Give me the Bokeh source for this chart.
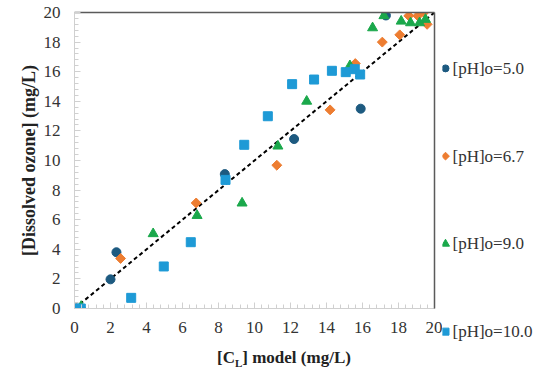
import math
from bokeh.plotting import figure
from bokeh.models import (Range1d, FactorRange, SingleIntervalTicker, FixedTicker, LinearAxis, Div)
from bokeh.layouts import column, row
from bokeh.core.properties import value
from bokeh.embed import file_html
from bokeh.resources import INLINE

# ---- data ----
ph50_x = [0.0, 2.0, 2.33, 8.35, 12.2, 15.9, 17.3]
ph50_y = [0.0, 1.97, 3.8, 9.08, 11.45, 13.5, 19.8]

ph67_x = [0.1, 2.56, 6.76, 11.24, 14.2, 15.6, 17.1, 18.07, 18.57, 19.07, 19.41, 19.59]
ph67_y = [0.0, 3.38, 7.13, 9.68, 13.42, 16.55, 18.0, 18.49, 19.78, 19.78, 20.0, 19.2]

ph90_x = [0.37, 4.37, 6.81, 9.31, 11.3, 12.9, 15.3, 16.56, 17.19, 18.15, 18.67, 19.17, 19.5]
ph90_y = [0.14, 5.05, 6.28, 7.12, 10.97, 14.0, 16.4, 18.96, 19.78, 19.41, 19.3, 19.3, 19.53]

ph100_x = [0.0, 0.35, 3.15, 4.96, 6.46, 8.39, 9.43, 10.74, 12.09, 13.31, 14.3, 15.07, 15.57, 15.87]
ph100_y = [0.0, 0.0, 0.72, 2.84, 4.48, 8.69, 11.06, 12.99, 15.16, 15.47, 16.06, 15.97, 16.17, 15.81]

fit_x = [0, 20]
fit_y = [0, 20]

labels = ["[pH]o=5.0", "[pH]o=6.7", "[pH]o=9.0", "[pH]o=10.0"]
markers = ["circle", "square", "triangle", "square"]
angles = [0, math.pi / 4, 0, 0]
sizes = [9, 7, 10, 9]
legend_sizes = [7, 5.5, 8, 7]
colors = ["#1d5a80", "#ED7D31", "#1aa84b", "#1e9ad6"]
tick_interval = 2
y_title = "[Dissolved ozone] (mg/L)"
FONT = "Liberation Serif"

# ---------------- main plot ----------------
p = figure(width=402, height=342, output_backend="svg", toolbar_location=None,
           x_range=Range1d(0, 20), y_range=Range1d(0, 20),
           min_border_left=34, min_border_right=8, min_border_top=12, min_border_bottom=34)
p.grid.visible = False
p.outline_line_color = None
p.background_fill_color = "white"
p.border_fill_color = "white"

for ax in (p.xaxis[0], p.yaxis[0]):
    ax.ticker = SingleIntervalTicker(interval=tick_interval, num_minor_ticks=5)
    ax.axis_line_color = "#d0d0d0"
    ax.major_tick_line_color = "#d0d0d0"
    ax.minor_tick_line_color = "#d0d0d0"
    ax.major_tick_in = 6
    ax.major_tick_out = 0
    ax.minor_tick_in = 4
    ax.minor_tick_out = 0
    ax.major_label_text_font = FONT
    ax.major_label_text_font_size = "17px"
    ax.major_label_text_color = "#333333"

p.xaxis.major_label_standoff = 13
p.yaxis.major_label_standoff = 14

# top / right border
for side in ("above", "right"):
    a = LinearAxis(ticker=FixedTicker(ticks=[]), major_tick_in=0, major_tick_out=0,
                   minor_tick_in=0, minor_tick_out=0, major_label_standoff=0,
                   axis_line_color="#5a5a5a", axis_line_width=1.5)
    p.add_layout(a, side)

# dashed 1:1 line
p.line(fit_x, fit_y, line_color="black", line_width=2, line_dash="4 3")

series = [(ph50_x, ph50_y), (ph67_x, ph67_y), (ph90_x, ph90_y), (ph100_x, ph100_y)]
for (xs, ys), m, a, sz, c in zip(series, markers, angles, sizes, colors):
    p.scatter(xs, ys, marker=m, angle=a, size=sz, fill_color=c, line_color=c)

# ---------------- y title panel ----------------
yt = figure(width=40, height=342, output_backend="svg", toolbar_location=None,
            x_range=Range1d(0, 40), y_range=p.y_range,
            min_border_left=0, min_border_right=0, min_border_top=12, min_border_bottom=34)
yt.axis.visible = False
yt.grid.visible = False
yt.outline_line_color = None
y_mid = (p.y_range.start + p.y_range.end) / 2
yt.text([28], [y_mid], text=[y_title], angle=math.pi / 2, text_font=value(FONT),
        text_font_style="bold", text_font_size="18px", text_color="#222222",
        text_align="center", text_baseline="middle")

xlabel = Div(text="<b>[C<sub style='font-size:11px'>L</sub>] model (mg/L)</b>",
             width=442, height=33, margin=(0, 0, 0, 0),
             styles={"font-family": FONT, "font-size": "17px", "color": "#222222",
                     "padding-left": "217px", "padding-top": "4px"})

# ---------------- legend panel ----------------
lg = figure(width=108, height=375, output_backend="svg", toolbar_location=None,
            x_range=Range1d(0, 108), y_range=FactorRange(factors=labels[::-1]),
            min_border_left=0, min_border_right=0, min_border_top=24, min_border_bottom=0)
lg.axis.visible = False
lg.grid.visible = False
lg.outline_line_color = None
legend_marker_x = 3
legend_text_x = 10
lg.scatter([legend_marker_x] * len(labels), labels, marker=markers, angle=angles, size=legend_sizes,
           fill_color=colors, line_color=colors)
lg.text([legend_text_x] * len(labels), labels, text=labels, text_font=value(FONT),
        text_font_size="17px", text_color="#333333", text_baseline="middle", text_align="left")

layout = row(column(row(yt, p, spacing=0), xlabel, spacing=0), lg, spacing=0)
open("out.html", "w").write(file_html(layout, INLINE))
